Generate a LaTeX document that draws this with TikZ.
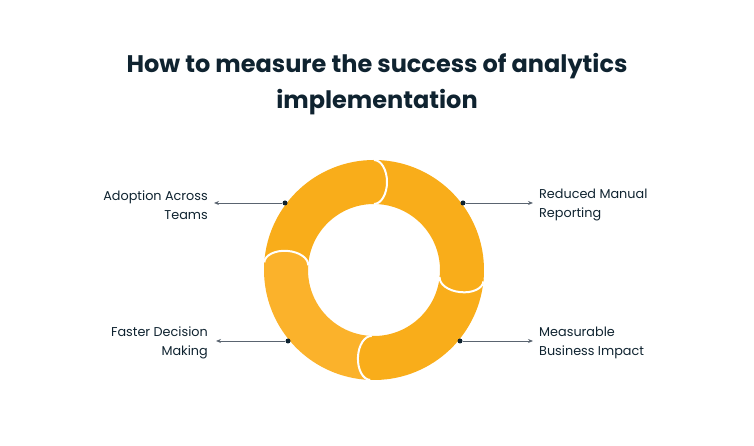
\documentclass[tikz,border=0pt]{standalone}
\usepackage{fontspec}
\setmainfont{Poppins}
\usetikzlibrary{arrows.meta}
\definecolor{seg}{HTML}{F9AD1A}
\definecolor{segl}{HTML}{FBB22B}
\definecolor{ink}{HTML}{0F2330}
\definecolor{ln}{HTML}{5A6470}
\begin{document}
\begin{tikzpicture}[x=1pt,y=1pt,
  lbl/.style={font=\fontsize{12.8}{19.5}\selectfont,text=ink,inner sep=0pt},
  con/.style={draw=ln,line width=0.9pt,-{Stealth[length=5pt,width=4pt]}},
  dot/.style={circle,fill=ink,inner sep=0pt,minimum size=5pt}]
\useasboundingbox (0,0) rectangle (754,446);
\def\cx{374}\def\cy{176}
\newcommand{\piece}[3]{%
  \fill[#3] (\cx,\cy) ++(#1:110) arc[start angle=#1,end angle=#2,radius=110]
     -- ++(#2:-44) arc[start angle=#2,end angle=#1,radius=66] -- cycle;
  \mycap{#2}{#3}}
\newcommand{\mycap}[2]{%
  \begin{scope}[shift={(\cx,\cy)},rotate=#1]
  \fill[#2] (88,0) ellipse[x radius=22,y radius=13];
  \draw[white,line width=2pt] (110,0) arc[start angle=0,end angle=-180,x radius=22,y radius=13];
  \end{scope}}
\piece{268}{176}{segl}
\piece{354}{268}{seg}
\piece{90}{-6}{seg}
\piece{176}{90}{seg}
\mycap{176}{segl}
\node[font=\fontsize{24}{36}\selectfont\bfseries,text=ink,align=center] (title) at (377,362)
  {How to measure the success of analytics\\implementation};
\node[lbl,align=right,anchor=east] (a) at (208,241) {Adoption Across\\Teams};
\node[lbl,align=left,anchor=west] (b) at (539,241) {Reduced Manual\\Reporting};
\node[lbl,align=right,anchor=east] (c) at (208,103) {Faster Decision\\Making};
\node[lbl,align=left,anchor=west] (d) at (539,103) {Measurable\\Business Impact};
\node[dot] (da) at (285,243) {};
\node[dot] (db) at (463,243) {};
\node[dot] (dc) at (288,105) {};
\node[dot] (dd) at (460,105) {};
\coordinate (ea) at (214,243);
\coordinate (eb) at (533,243);
\coordinate (ec) at (216,105);
\coordinate (ed) at (533,105);
\draw[con] (da) -- (ea);
\draw[con] (db) -- (eb);
\draw[con] (dc) -- (ec);
\draw[con] (dd) -- (ed);
\end{tikzpicture}
\end{document}
